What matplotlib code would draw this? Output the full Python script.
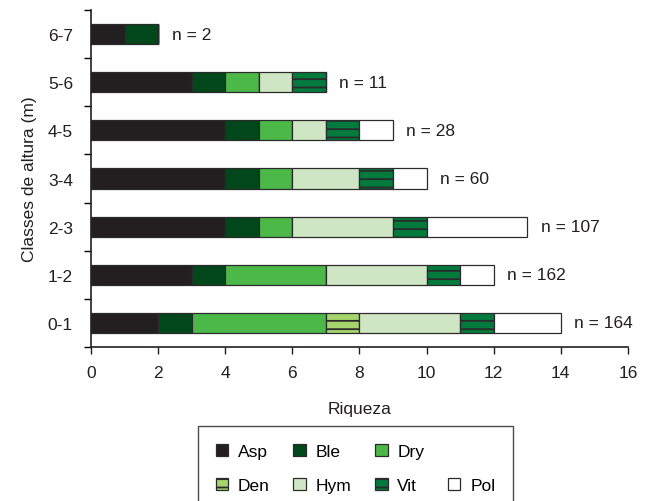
import matplotlib
matplotlib.use("Agg")
import matplotlib.pyplot as plt
from matplotlib.patches import Rectangle
import numpy as np

plt.rcParams['font.family'] = ['Liberation Sans', 'DejaVu Sans']
plt.rcParams['hatch.linewidth'] = 1.3

# height classes, bottom to top
classes = ["0-1", "1-2", "2-3", "3-4", "4-5", "5-6", "6-7"]
n_labels = ["n = 164", "n = 162", "n = 107", "n = 60", "n = 28", "n = 11", "n = 2"]

groups = ["Asp", "Ble", "Dry", "Den", "Hym", "Vit", "Pol"]
asp = [2, 3, 4, 4, 4, 3, 1]
ble = [1, 1, 1, 1, 1, 1, 1]
dry = [4, 3, 1, 1, 1, 1, 0]
den = [1, 0, 0, 0, 0, 0, 0]
hym = [3, 3, 3, 2, 1, 1, 0]
vit = [1, 1, 1, 1, 1, 1, 0]
pol = [2, 1, 3, 1, 1, 0, 0]

colors = ["#231f20", "#00471b", "#4cb848", "#a6d56e", "#cfe6c4", "#007a3d", "#ffffff"]
hatches = [None, None, None, "--", None, "--", None]
fs = 12.5
tc = "#231f20"

fig = plt.figure(figsize=(6.5, 5.02), dpi=100)
ax = fig.add_axes([0.14, 0.3068, 0.826, 0.6712])

y = np.arange(len(classes))
left = np.zeros(len(classes))
series = [asp, ble, dry, den, hym, vit, pol]
handles = []
for name, vals, c, h in zip(groups, series, colors, hatches):
    vals = np.array(vals, dtype=float)
    ax.barh(y, vals, left=left, height=0.42, color=c, edgecolor="#2b2b2b",
            linewidth=0.9, hatch=h)
    handles.append(Rectangle((0, 0), 1, 1, facecolor=c, edgecolor="#2b2b2b",
                             linewidth=0.9, hatch=h, label=name))
    left += vals

for yi, tot, lab in zip(y, left, n_labels):
    ax.text(tot + 0.4, yi, lab, va="center", ha="left", fontsize=fs, color=tc)

ax.set_xlim(0, 16)
ax.set_ylim(-0.5, 6.5)
ax.set_xticks(range(0, 17, 2))
ax.set_yticks(y)
ax.set_yticklabels(classes)
ax.set_yticks(np.arange(-0.5, 7, 1), minor=True)
ax.tick_params(axis="y", which="major", length=0, pad=13)
ax.tick_params(axis="y", which="minor", length=5, width=1, direction="out")
ax.tick_params(axis="x", length=5, width=1, direction="out", pad=8)
ax.tick_params(labelsize=fs, colors=tc)
for s in ["top", "right"]:
    ax.spines[s].set_visible(False)
for s in ["left", "bottom"]:
    ax.spines[s].set_color(tc)
    ax.spines[s].set_linewidth(1.2)

ax.set_xlabel("Riqueza", fontsize=fs, color=tc, labelpad=15)
ax.set_ylabel("Classes de altura (m)", fontsize=fs, color=tc, labelpad=8)

blank = Rectangle((0, 0), 1, 1, facecolor="none", edgecolor="none", label=" ")
order = [handles[0], handles[3], handles[1], handles[4], handles[2], handles[5], blank, handles[6]]
leg = fig.legend(handles=order, ncol=4, loc="upper center",
                 bbox_to_anchor=(0.547, 0.149), fontsize=fs, frameon=True,
                 fancybox=False, edgecolor=tc, handlelength=0.72,
                 handleheight=0.72, handletextpad=0.57, columnspacing=1.35,
                 borderpad=1.0, labelspacing=1.1, borderaxespad=0)
leg.get_frame().set_linewidth(1.0)

fig.savefig("out.png", dpi=100)
